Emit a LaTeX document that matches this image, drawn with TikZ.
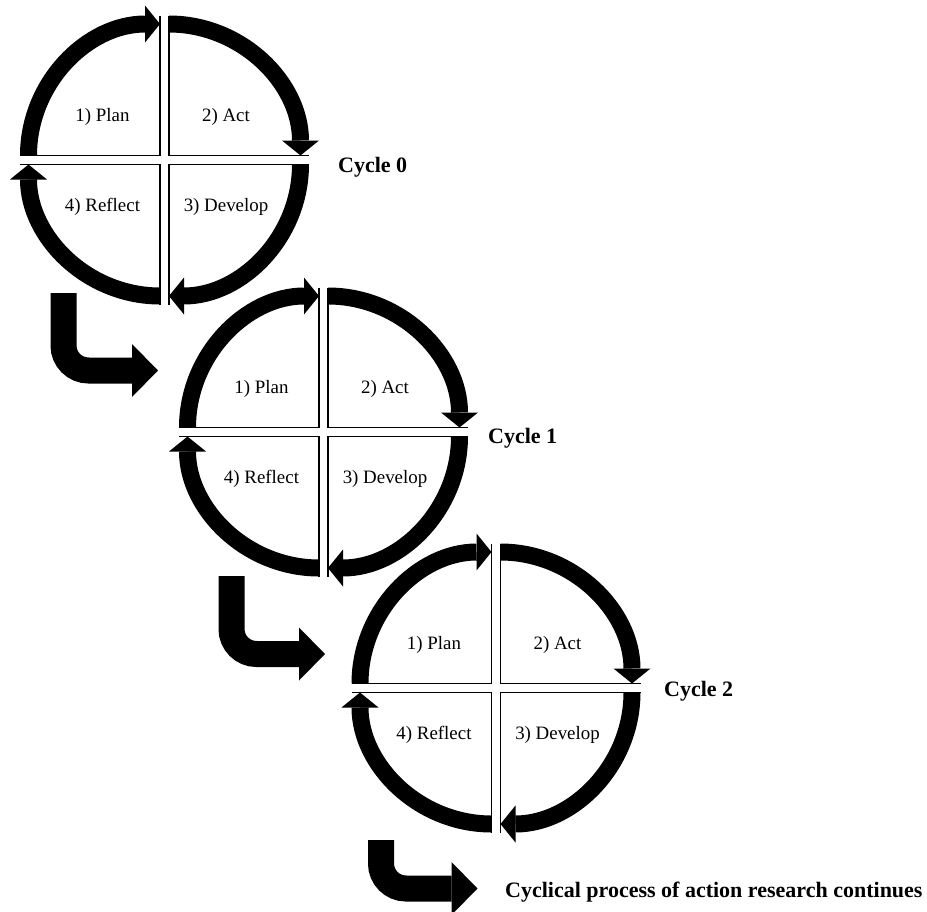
\documentclass[tikz,border=0pt]{standalone}
\usepackage{fontspec}
\setmainfont{Liberation Serif}
\usetikzlibrary{arrows.meta,calc}
\begin{document}
\begin{tikzpicture}[x=1pt,y=-1pt,
  edge/.style={line width=1.3pt,line cap=butt},
  ring/.style={line width=17pt,line cap=butt,-{Triangle[width=37pt,length=15pt,line width=0pt]}},
  bent/.style={line width=26pt,line cap=butt,rounded corners=25pt,-{Triangle[width=53pt,length=26pt,line width=0pt]}},
  quad/.style={font=\fontsize{18.9}{22}\selectfont,anchor=base,inner sep=0pt},
  cyclelabel/.style={font=\bfseries\fontsize{22}{26}\selectfont,anchor=base west,inner sep=0pt}]
\path[use as bounding box] (0,0) rectangle (927,911);
\foreach \cx/\cy/\n in {164.5/160/0, 323.5/432/1, 496/688/2}{
  \coordinate (tl\n) at (\cx-4.5,\cy-4.5);
  \coordinate (tr\n) at (\cx+4.5,\cy-4.5);
  \coordinate (br\n) at (\cx+4.5,\cy+4.5);
  \coordinate (bl\n) at (\cx-4.5,\cy+4.5);
  % thin straight edges
  \draw[edge] ($(tl\n)+(-140,0)$) -- (tl\n) -- ($(tl\n)+(0,-140)$);
  \draw[edge] ($(tr\n)+(0,-140)$) -- (tr\n) -- ($(tr\n)+(140,0)$);
  \draw[edge] ($(br\n)+(140,0)$) -- (br\n) -- ($(br\n)+(0,140)$);
  \draw[edge] ($(bl\n)+(0,140)$) -- (bl\n) -- ($(bl\n)+(-140,0)$);
  % thick arcs with arrowheads
  \draw[ring] ($(tl\n)+(180:131.5)$) arc[start angle=180,end angle=270,radius=131.5];
  \draw[ring] ($(tr\n)+(270:131.5)$) arc[start angle=270,end angle=360,radius=131.5];
  \draw[ring] ($(br\n)+(0:131.5)$) arc[start angle=0,end angle=90,radius=131.5];
  \draw[ring] ($(bl\n)+(90:131.5)$) arc[start angle=90,end angle=180,radius=131.5];
  % labels
  \node[quad] (plan\n) at (\cx-62,\cy-38.5) {1) Plan};
  \node[quad] (act\n) at (\cx+61.5,\cy-38.5) {2) Act};
  \node[quad] (dev\n) at (\cx+61.5,\cy+51.5) {3) Develop};
  \node[quad] (ref\n) at (\cx-62,\cy+51.5) {4) Reflect};
}
\node[cyclelabel] (cyc0) at (338,172) {Cycle 0};
\node[cyclelabel] (cyc1) at (488,443) {Cycle 1};
\node[cyclelabel] (cyc2) at (664,696) {Cycle 2};
\node[cyclelabel] (cont) at (505,897) {Cyclical process of action research continues};
% bent transition arrows
\coordinate (b0s) at (63.5,293);  \coordinate (b0e) at (158,370.5);
\coordinate (b1s) at (231.5,576); \coordinate (b1e) at (325,654);
\coordinate (b2s) at (381,840);   \coordinate (b2e) at (477.5,888.5);
\draw[bent] (b0s) |- (b0e);
\draw[bent] (b1s) |- (b1e);
\draw[bent] (b2s) |- (b2e);
\end{tikzpicture}
\end{document}
